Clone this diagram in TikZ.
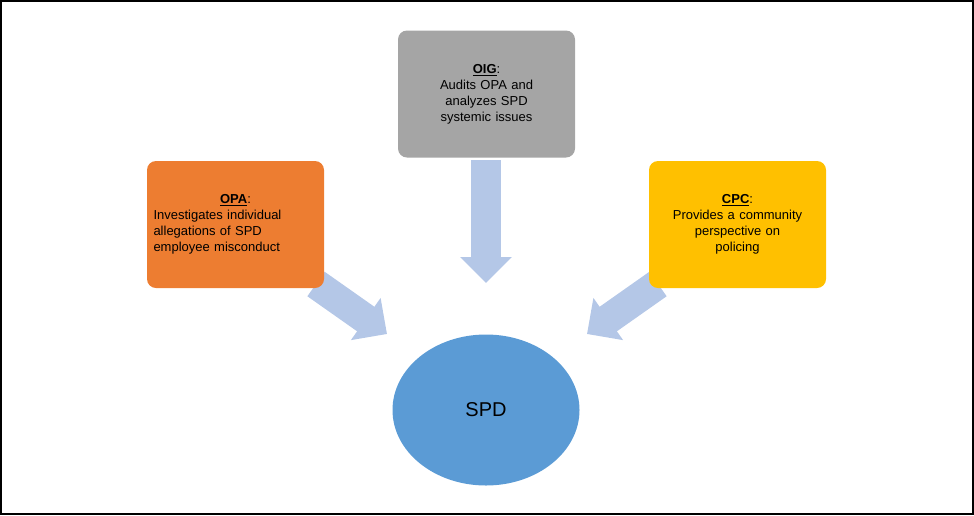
\documentclass[tikz,border=0pt]{standalone}
\usepackage{fontspec}
\setmainfont{Liberation Sans}
\usetikzlibrary{arrows.meta,shapes.geometric}
\definecolor{oig}{HTML}{A5A5A5}
\definecolor{opa}{HTML}{ED7D31}
\definecolor{cpc}{HTML}{FFC000}
\definecolor{spd}{HTML}{5B9BD5}
\definecolor{arr}{HTML}{B4C7E7}
\begin{document}
\begin{tikzpicture}[x=1pt,y=-1pt,
  box/.style={rounded corners=9pt,minimum width=177pt,minimum height=127pt,text width=166pt,font=\fontsize{13}{16}\selectfont,inner sep=0pt},
  blk/.style={arr,line width=30pt,-{Triangle[width=50pt,length=26pt]}}]
\useasboundingbox (0,0) rectangle (974,515);
\draw[black,line width=1.2pt] (1,1) rectangle (973,514);
\coordinate (a1) at (486,160); \coordinate (a2) at (486,283);
\coordinate (b1) at (316,284); \coordinate (b2) at (387,334);
\coordinate (c1) at (658,284); \coordinate (c2) at (587,334);
\draw[blk] (a1) -- (a2);
\draw[blk] (b1) -- (b2);
\draw[blk] (c1) -- (c2);
\node[box,fill=oig,align=center] (oig) at (486.5,94) {\underline{\textbf{OIG}}:\\Audits OPA and\\analyzes SPD\\systemic issues};
\node[box,fill=opa,align=center] (opa) at (235.5,224.5) {\underline{\textbf{OPA}}:\\\makebox[164pt][s]{Investigates individual}\\\makebox[164pt][s]{allegations of SPD}\\\makebox[164pt][s]{employee misconduct}};
\node[box,fill=cpc,align=center] (cpc) at (737.5,224.5) {\underline{\textbf{CPC}}:\\Provides a community\\perspective on\\policing};
\node[ellipse,fill=spd,minimum width=187pt,minimum height=151pt,font=\fontsize{20}{24}\selectfont] (spd) at (486,410) {SPD};
\end{tikzpicture}
\end{document}
